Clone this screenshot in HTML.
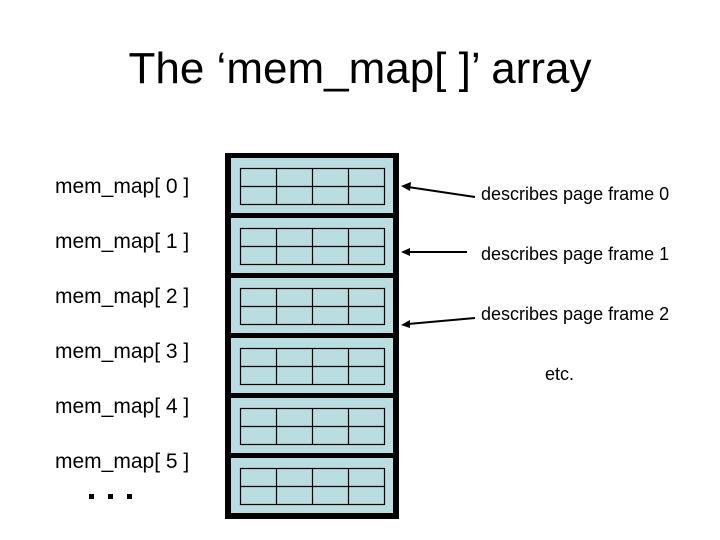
<!DOCTYPE html>
<html><head><style>
body{margin:0;width:720px;height:540px;background:#fff;position:relative;font-family:"Liberation Sans",sans-serif;overflow:hidden}
.t{position:absolute;white-space:nowrap;color:#000}
</style></head><body>
<div class="t" style="left:0;width:720px;text-align:center;top:44px;font-size:44px">The ‘mem_map[ ]’ array</div>
<div class="t" style="left:55px;top:175px;font-size:21px">mem_map[ 0 ]</div>
<div class="t" style="left:55px;top:230px;font-size:21px">mem_map[ 1 ]</div>
<div class="t" style="left:55px;top:285px;font-size:21px">mem_map[ 2 ]</div>
<div class="t" style="left:55px;top:340px;font-size:21px">mem_map[ 3 ]</div>
<div class="t" style="left:55px;top:395px;font-size:21px">mem_map[ 4 ]</div>
<div class="t" style="left:55px;top:450px;font-size:21px">mem_map[ 5 ]</div>
<div class="t" style="left:481px;top:184px;font-size:18px">describes page frame 0</div>
<div class="t" style="left:481px;top:244px;font-size:18px">describes page frame 1</div>
<div class="t" style="left:481px;top:304px;font-size:18px">describes page frame 2</div>
<div class="t" style="left:545px;top:364px;font-size:18px">etc.</div>
<svg width="720" height="540" style="position:absolute;left:0;top:0">
<rect x="89" y="494" width="5" height="5" fill="#000"/>
<rect x="108" y="494" width="5" height="5" fill="#000"/>
<rect x="127" y="494" width="5" height="5" fill="#000"/>
<rect x="225" y="153" width="174" height="366" fill="#000"/>
<g id="c">
<rect x="231" y="158" width="162" height="55" fill="#b9dde0"/>
<g stroke="#000" stroke-width="1.2" fill="none">
<rect x="240.5" y="168.5" width="144" height="36"/>
<line x1="240" y1="186.5" x2="385" y2="186.5"/>
<line x1="276.5" y1="168" x2="276.5" y2="205"/>
<line x1="312.5" y1="168" x2="312.5" y2="205"/>
<line x1="348.5" y1="168" x2="348.5" y2="205"/>
</g></g>
<use href="#c" y="60"/><use href="#c" y="120"/><use href="#c" y="180"/><use href="#c" y="240"/><use href="#c" y="300"/>
<g stroke="#000" stroke-width="2">
<line x1="475" y1="197" x2="408" y2="187"/>
<line x1="467" y1="252" x2="408" y2="252"/>
<line x1="475" y1="318" x2="408" y2="324"/>
</g>
<polygon points="401,186 411,182 410,191" fill="#000"/>
<polygon points="401,252 410,248 410,256" fill="#000"/>
<polygon points="401,325 410,320 410,328" fill="#000"/>
</svg>
</body></html>
